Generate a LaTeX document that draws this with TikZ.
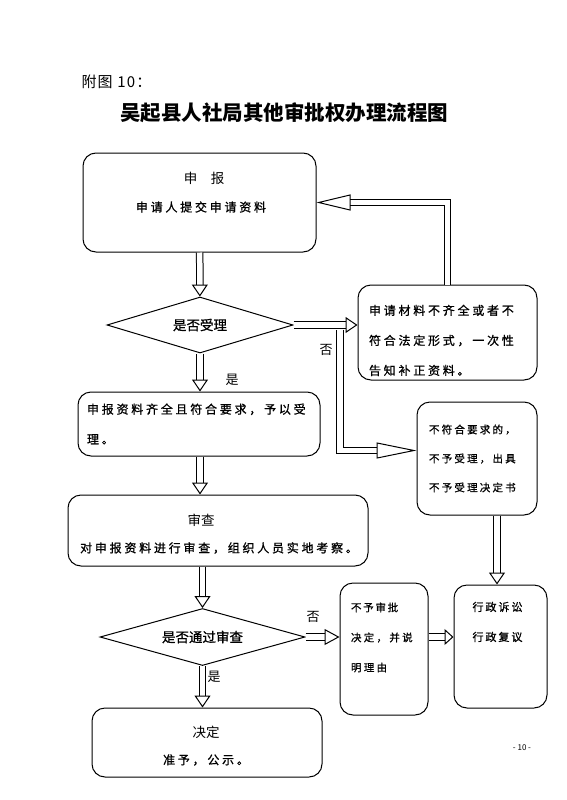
\documentclass[tikz,border=0pt]{standalone}
\usepackage{fontspec}
\setmainfont{Noto Sans CJK SC}
\usetikzlibrary{shapes.geometric}
\usetikzlibrary{arrows.meta}
\tikzset{box/.style = {draw, line width=1pt, rounded corners=13pt,
                       inner sep=0pt, align=left,
                       font=\fontsize{12}{30}\selectfont\addfontfeature{LetterSpace=23,FakeBold=1}}}
\tikzset{ask/.style = {draw, line width=1pt, diamond, inner sep=0pt,
                       font=\fontsize{13.5}{14}\selectfont\addfontfeature{FakeBold=0.8}}}
\tikzset{hollow/.style = {line width=1pt, double, double distance=5.5pt,
                          -{Triangle[open, length=#1, width=16pt, line width'=1pt]}}}
\tikzset{hollow/.default = 12pt}
\tikzset{tag/.style = {font=\fontsize{13}{13}\selectfont}}
\tikzset{head/.style = {font=\fontsize{13.5}{14}\selectfont}}
\tikzset{body/.style = {font=\fontsize{12}{14}\selectfont\addfontfeature{LetterSpace=23,FakeBold=1}}}

\begin{document}
\begin{tikzpicture}[x=1pt, y=-1pt]
      \useasboundingbox (0,0) rectangle (566,800);
      \node[anchor=west, font=\fontsize{15}{15}\selectfont\addfontfeature{LetterSpace=8}]
        (fig) at (78,82) {附图 10：};
      \node[font=\fontsize{20.5}{21}\selectfont\bfseries] (title) at (284,113)
        {吴起县人社局其他审批权办理流程图};
      % main column
      \node[box, minimum width=233pt, minimum height=99pt] (apply) at (199.5,202.5) {};
      \node[head] at (204,178) {申\quad 报};
      \node[body] at (201,207) {申请人提交申请资料};
      \node[ask, aspect=3.3, minimum width=186pt, minimum height=56pt]
        (acc) at (200,325) {是否受理};
      \node[box, minimum width=242pt, minimum height=64pt, text width=224pt]
        (ok) at (199,424) {申报资料齐全且符合要求，予以受\\理。};
      \node[box, minimum width=300pt, minimum height=71pt] (review) at (218,530.5) {};
      \node[head] at (201,520) {审查};
      \node[body] at (219,548) {对申报资料进行审查，组织人员实地考察。};
      \node[ask, aspect=3.6, minimum width=205pt, minimum height=57pt]
        (pass) at (202.5,637) {是否通过审查};
      \node[box, minimum width=230pt, minimum height=69pt] (decide) at (207,742.5) {};
      \node[head] at (206,732) {决定};
      \node[body] at (206,760) {准予，公示。};
      % right column
      \node[box, minimum width=179pt, minimum height=95pt, text width=157pt]
        (supp) at (447.5,332.5) {\rule{0pt}{26pt}申请材料不齐全或者不\\符合法定形式，一次性\\告知补正资料。};
      \node[box, minimum width=120pt, minimum height=113pt, text width=96pt,
            font=\fontsize{10.5}{29}\selectfont\addfontfeature{LetterSpace=21,FakeBold=1}]
        (reject) at (477,458.5) {不符合要求的，\\不予受理，出具\\不予受理决定书};
      \node[box, minimum width=88pt, minimum height=132pt, text width=66pt,
            font=\fontsize{10.5}{30}\selectfont\addfontfeature{LetterSpace=22,FakeBold=1}]
        (deny) at (384,649) {不\,予\,审\,批\\决定，并说\\明理由\\[-6pt]\mbox{}};
      \node[box, minimum width=93pt, minimum height=123pt, text width=56pt,
            font=\fontsize{11}{30}\selectfont\addfontfeature{LetterSpace=18,FakeBold=1}]
        (appeal) at (500.5,646.5) {行政诉讼\\行政复议\\[-5pt]\mbox{}\\[-5pt]\mbox{}};
      % connectors
      \draw[hollow] (apply) -- (acc);
      \draw[hollow] (acc) -- (acc.south |- ok.north);
      \draw[hollow] (ok.south -| acc.south) -- (acc.south |- review.north);
      \draw[hollow] (review.south -| pass.north) -- (pass);
      \draw[hollow] (pass) -- (pass.south |- decide.north);
      \draw[hollow] (acc.east) -- (acc.east -| supp.west);
      \draw[hollow=34pt] (supp.north) |- (apply.east);
      \coordinate (fork) at (340,329.5);
      \draw[hollow=40pt] (fork) |- ([yshift=8pt]reject.west);
      \draw[hollow=15pt] (pass.east) -- (pass.east -| deny.west);
      \draw[hollow=9pt] (deny.east |- pass.east) -- (pass.east -| appeal.west);
      \draw[hollow] (reject.south -| 497,0) -- (497,0 |- appeal.north);
      % labels
      \node[tag] (no1) at (326,350) {否};
      \node[tag] (yes1) at (232,380) {是};
      \node[tag] (no2) at (313,617) {否};
      \node[tag] (yes2) at (214,677) {是};
      \node[font=\fontsize{8}{8}\selectfont] (page) at (522,748) {- 10 -};
    \end{tikzpicture}
\end{document}
